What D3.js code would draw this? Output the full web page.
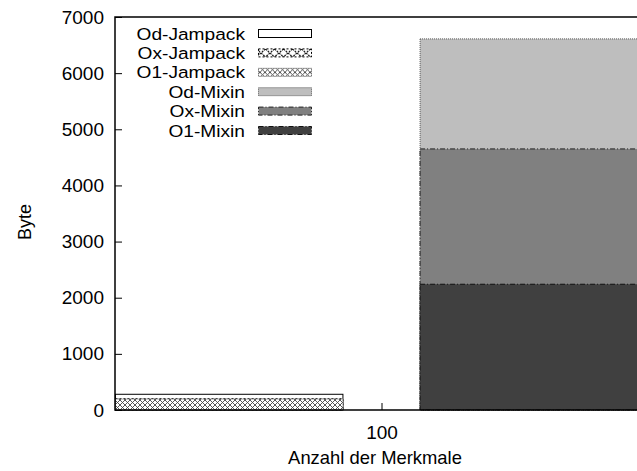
<!DOCTYPE html>
<html>
<head>
<meta charset="utf-8">
<script src="https://cdn.jsdelivr.net/npm/d3@7"></script>
<style>
  body { margin: 0; background: #fff; }
  svg { display: block; font-family: "Liberation Sans", Arial, sans-serif; }
</style>
</head>
<body>
<div id="chart"></div>
<script>
// data
const variants = ['Jampack', 'Mixin'];
const variantPos = [95, 105];
const levels = ['Od', 'Ox', 'O1'];
const jampackBytes = [280, 200, 195];
const mixinBytes = [6610, 4650, 2240];
const yTicks = [0, 1000, 2000, 3000, 4000, 5000, 6000, 7000];
const xTicks = [100];

const width = 637, height = 471;
const margin = { top: 17, right: -11, bottom: 61, left: 115 };

const svg = d3.select("#chart").append("svg")
    .attr("width", width)
    .attr("height", height);

// patterns for the jampack bars
const defs = svg.append("defs");
const p1 = defs.append("pattern").attr("id", "patOx")
    .attr("patternUnits", "userSpaceOnUse").attr("width", 9).attr("height", 8);
p1.append("rect").attr("width", 9).attr("height", 8).attr("fill", "#fff");
p1.append("path").attr("d", "M0,0L9,8M9,0L0,8").attr("stroke", "#000").attr("stroke-width", 1.1)
    .attr("stroke-dasharray", "2,1");
const p2 = defs.append("pattern").attr("id", "patO1")
    .attr("patternUnits", "userSpaceOnUse").attr("width", 5).attr("height", 5);
p2.append("rect").attr("width", 5).attr("height", 5).attr("fill", "#fff");
p2.append("path").attr("d", "M0,0L5,5M5,0L0,5").attr("stroke", "#444").attr("stroke-width", 0.9);

const styles = {
    'Od-Jampack': { fill: "#fff", stroke: "#000", dash: null },
    'Ox-Jampack': { fill: "url(#patOx)", stroke: "#000", dash: "2,2" },
    'O1-Jampack': { fill: "url(#patO1)", stroke: "#555", dash: "1,1" },
    'Od-Mixin': { fill: "#bebebe", stroke: "#555", dash: "1,1" },
    'Ox-Mixin': { fill: "#808080", stroke: "#222", dash: "5,2,1,2" },
    'O1-Mixin': { fill: "#404040", stroke: "#111", dash: "5,2,1,2" }
};

const x = d3.scaleLinear().domain([91.25, 108.75]).range([margin.left, width - margin.right]);
const y = d3.scaleLinear().domain([0, 7000]).range([height - margin.bottom, margin.top]);
const boxWidth = 7.5;

const bars = [];
variants.forEach((v, i) => {
    const vals = i === 0 ? jampackBytes : mixinBytes;
    levels.forEach((l, j) => bars.push({ name: l + '-' + v, pos: variantPos[i], value: vals[j] }));
});

svg.append("g").selectAll("rect")
    .data(bars)
    .enter().append("rect")
    .attr("x", d => x(d.pos - boxWidth / 2) + 0.5)
    .attr("width", d => x(d.pos + boxWidth / 2) - x(d.pos - boxWidth / 2) - 1)
    .attr("y", d => y(d.value))
    .attr("height", d => y(0) - y(d.value))
    .attr("fill", d => styles[d.name].fill)
    .attr("stroke", d => styles[d.name].stroke)
    .attr("stroke-width", 1)
    .attr("stroke-dasharray", d => styles[d.name].dash);

// axes
const yAxis = svg.append("g")
    .attr("transform", "translate(" + margin.left + ",0)")
    .call(d3.axisLeft(y).tickValues(yTicks).tickFormat(d3.format("d"))
        .tickSize(-7).tickPadding(11).tickSizeOuter(0));
const xAxis = svg.append("g")
    .attr("transform", "translate(0," + (height - margin.bottom) + ")")
    .call(d3.axisBottom(x).tickValues(xTicks).tickFormat(d3.format("d"))
        .tickSize(-7).tickPadding(16).tickSizeOuter(0));
[yAxis, xAxis].forEach(a => {
    a.select(".domain").remove();
    a.selectAll("line").attr("stroke", "#000");
    a.selectAll("text").attr("font-size", 19).attr("fill", "#000")
        .attr("font-family", "Liberation Sans, Arial, sans-serif");
});

// border
svg.append("path")
    .attr("d", "M" + (width + 5) + "," + y(7000) + "H" + margin.left + "V" + y(0) + "H" + (width + 5))
    .attr("fill", "none").attr("stroke", "#000").attr("stroke-width", 1.5);

// axis labels
svg.append("text")
    .attr("transform", "translate(31,222) rotate(-90)")
    .attr("text-anchor", "middle")
    .attr("font-size", 18)
    .text("Byte");
svg.append("text")
    .attr("x", 375).attr("y", 464)
    .attr("text-anchor", "middle")
    .attr("font-size", 18.4)
    .text("Anzahl der Merkmale");

// legend
const legendNames = bars.map(d => d.name);
const legend = svg.append("g").selectAll("g")
    .data(legendNames)
    .enter().append("g")
    .attr("transform", (d, i) => "translate(0," + (33.5 + i * 19.4) + ")");
legend.append("text")
    .attr("transform", "translate(245,6) scale(1.14,1)")
    .attr("text-anchor", "end")
    .attr("font-size", 16.8)
    .text(d => d);
legend.append("rect")
    .attr("x", 258.5).attr("y", -4)
    .attr("width", 53).attr("height", 8)
    .attr("fill", d => styles[d].fill)
    .attr("stroke", d => styles[d].stroke)
    .attr("stroke-dasharray", d => styles[d].dash);
</script>
</body>
</html>
